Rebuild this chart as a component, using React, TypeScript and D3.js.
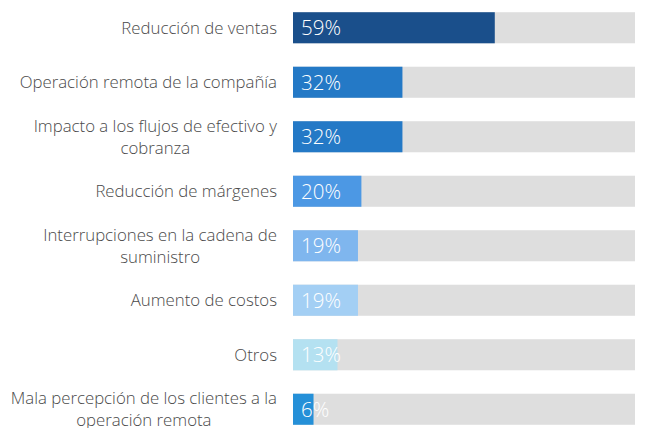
import React, { useEffect, useRef } from 'react';
import * as d3 from 'd3';

const categories = [
  ['Reducción de ventas'],
  ['Operación remota de la compañía'],
  ['Impacto a los flujos de efectivo y', 'cobranza'],
  ['Reducción de márgenes'],
  ['Interrupciones en la cadena de', 'suministro'],
  ['Aumento de costos'],
  ['Otros'],
  ['Mala percepción de los clientes a la', 'operación remota'],
];
const values = [59, 32, 32, 20, 19, 19, 13, 6];
const barColors = ['#1a4f8b', '#2479c6', '#2479c6', '#4c98e4', '#7fb6ee', '#a3cff4', '#b4e1f1', '#2590d8'];

const W = 650;
const H = 436;

export default function App() {
  const svgRef = useRef<SVGSVGElement>(null);

  useEffect(() => {
    if (!svgRef.current) return;
    const svg = d3.select(svgRef.current);
    svg.selectAll('*').remove();

    const x = d3.scaleLinear().domain([0, 100]).range([293, 635]);
    const y = d3
      .scaleBand<number>()
      .domain(d3.range(values.length))
      .range([0.5, 436.5])
      .paddingInner(0.43)
      .paddingOuter(0.215);

    const rows = svg
      .selectAll('g.row')
      .data(values)
      .join('g')
      .attr('class', 'row');

    // grey track
    rows
      .append('rect')
      .attr('x', x(0))
      .attr('y', (_, i) => y(i)!)
      .attr('width', x(100) - x(0))
      .attr('height', y.bandwidth())
      .attr('fill', '#dedede');

    // value bar
    rows
      .append('rect')
      .attr('x', x(0))
      .attr('y', (_, i) => y(i)!)
      .attr('width', (d) => x(d) - x(0))
      .attr('height', y.bandwidth())
      .attr('fill', (_, i) => barColors[i]);

    rows
      .append('text')
      .attr('x', x(0) + 8)
      .attr('y', (_, i) => y(i)! + y.bandwidth() / 2)
      .attr('dy', '0.36em')
      .attr('fill', '#fff')
      .attr('font-family', '"Open Sans", sans-serif')
      .attr('font-weight', 300)
      .attr('font-size', 20.5)
      .text((d) => `${d}%`);

    // category labels, right aligned block with centred lines
    const labelRight = 277;
    const lineH = 22;
    categories.forEach((lines, i) => {
      const cy = y(i)! + y.bandwidth() / 2;
      const g = svg.append('g');
      const texts = lines.map((line, j) =>
        g
          .append('text')
          .attr('y', cy + (j - (lines.length - 1) / 2) * lineH)
          .attr('dy', '0.35em')
          .attr('fill', '#4a4a4a')
          .attr('font-family', '"Open Sans", sans-serif')
          .attr('font-weight', 300)
          .attr('font-size', 16.8)
          .attr('text-anchor', 'middle')
          .text(line)
      );
      const widths = texts.map((t) => (t.node() as SVGTextElement).getComputedTextLength());
      const maxW = d3.max(widths) ?? 0;
      texts.forEach((t) => t.attr('x', labelRight - maxW / 2));
    });
  }, []);

  return <svg ref={svgRef} width={W} height={H} style={{ display: 'block', margin: -8 }} />;
}
